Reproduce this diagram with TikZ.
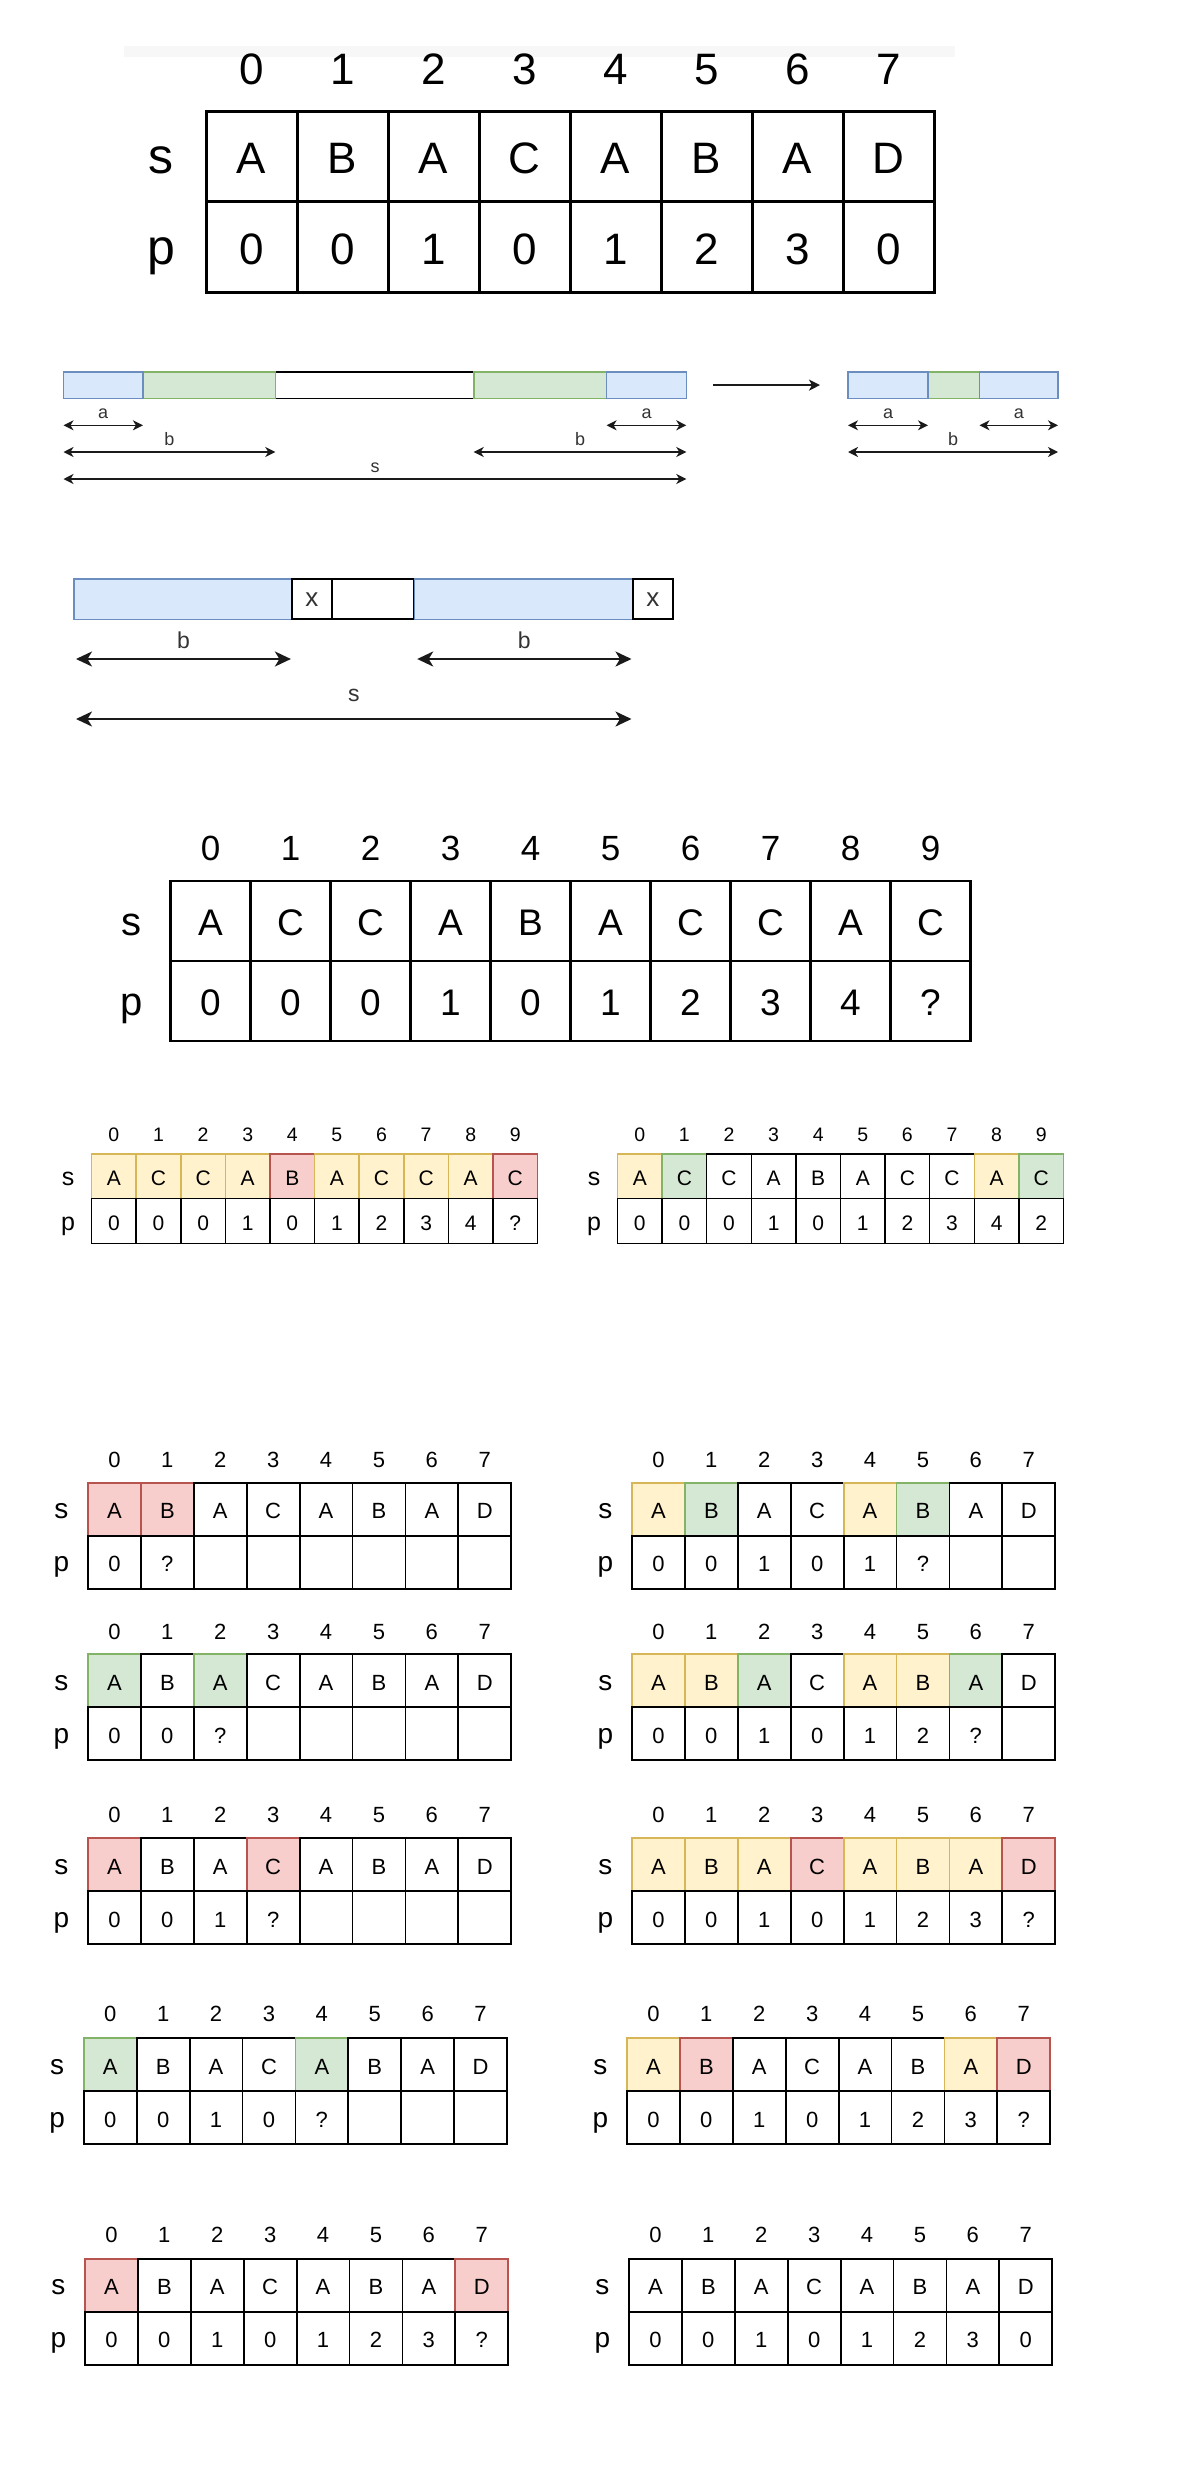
\documentclass[tikz,border=0pt]{standalone}
\usepackage{fontspec}
\setmainfont{Liberation Sans}
\usetikzlibrary{arrows.meta}
\definecolor{bluef}{HTML}{DAE8FC}\definecolor{blued}{HTML}{6C8EBF}
\definecolor{greenf}{HTML}{D5E8D4}\definecolor{greend}{HTML}{82B366}
\definecolor{yelf}{HTML}{FFF2CC}\definecolor{yeld}{HTML}{D6B656}
\definecolor{redf}{HTML}{F8CECC}\definecolor{redd}{HTML}{B85450}
\definecolor{ink}{HTML}{1A1A1A}
\definecolor{lbl}{HTML}{333333}
\definecolor{band}{HTML}{F7F7F7}

\tikzset{
  cellw/.style={draw=black, fill=white},
  celly/.style={draw=yeld, fill=yelf},
  cellg/.style={draw=greend, fill=greenf},
  cellr/.style={draw=redd, fill=redf},
  cellbox/.style={anchor=north west, inner sep=0pt, outer sep=0pt,
    minimum width=\CW pt, minimum height=\CH pt, line width=\LW pt,
    font=\fontsize{\FC}{\FC}\selectfont, text=black,
    text height=0.716*\FC pt+3pt, text depth=0pt},
  idxnum/.style={inner sep=0pt, font=\fontsize{\FI}{\FI}\selectfont, text=black,
    text height=0.716*\FI pt, text depth=0pt},
  rowlbl/.style={anchor=base, inner sep=0pt, font=\fontsize{\FL}{\FL}\selectfont, text=black},
  barbox/.style={anchor=north west, inner sep=0pt, outer sep=0pt},
  bluebar/.style={barbox, draw=blued, fill=bluef, line width=1.6pt},
  greenbar/.style={barbox, draw=greend, fill=greenf, line width=1.6pt},
  whitebar/.style={barbox, draw=black, fill=white, line width=1.8pt},
  dimsmall/.style={draw=ink, line width=1.6pt,
    arrows={Stealth[length=10pt,width=10pt,inset=3pt]-Stealth[length=10pt,width=10pt,inset=3pt]}},
  dimbig/.style={draw=ink, line width=2.2pt,
    arrows={Stealth[length=16pt,width=15pt,inset=4.5pt]-Stealth[length=16pt,width=15pt,inset=4.5pt]}},
  flowarrow/.style={draw=ink, line width=1.8pt,
    arrows={-Stealth[length=11pt,width=11pt,inset=3pt]}},
  dimlbl/.style={anchor=base, inner sep=0pt, text=lbl, font=\fontsize{18}{18}\selectfont},
  dimlblbig/.style={anchor=base, inner sep=0pt, text=lbl, font=\fontsize{23}{23}\selectfont},
}

% #1 name prefix, #2 list of letter/colour, #3 list of p values
\newcommand{\kmptab}[3]{%
  \foreach \L/\C [count=\i from 0] in {#2} {
    \node[cellbox, cell\C] (#1s\i) at ({\TX+\i*\CW},{\TY}) {\L};
    \node[idxnum] (#1i\i) at ({\TX+(\i+0.5)*\CW},{\IY}) {\i};
  }
  \foreach \P [count=\i from 0] in {#3} {
    \node[cellbox, cellw] (#1p\i) at ({\TX+\i*\CW},{\TY+\CH}) {\P};
  }
  \node[rowlbl] (#1ls) at ({\TX-\LX},{\TY+0.5*\CH+0.358*\FC+1.5}) {s};
  \node[rowlbl] (#1lp) at ({\TX-\LX},{\TY+1.5*\CH+0.358*\FC+1.5}) {p};
}

\begin{document}
\begin{tikzpicture}[x=1pt, y=-1pt]
\useasboundingbox (0,0) rectangle (1192,2476);
\fill[white] (0,0) rectangle (1192,2476);

% ---------- section 1 ----------
\fill[band] (124,46) rectangle (955,57);
\def\TX{206}\def\TY{111}\def\CW{91}\def\CH{90.5}\def\FC{44}\def\FL{50}\def\FI{44}\def\IY{69}\def\LX{45}\def\LW{3}
\kmptab{ta}{A/w,B/w,A/w,C/w,A/w,B/w,A/w,D/w}{0,0,1,0,1,2,3,0}

% ---------- section 2 ----------
\node[whitebar, minimum width=198.4pt, minimum height=26.8pt] (bw) at (275.3,371.7) {};
\node[greenbar, minimum width=132.4pt, minimum height=26.8pt] (bg1) at (142.9,371.7) {};
\node[greenbar, minimum width=132.9pt, minimum height=26.8pt] (bg2) at (473.7,371.7) {};
\node[bluebar, minimum width=79.6pt, minimum height=26.8pt] (bb1) at (63.3,371.7) {};
\node[bluebar, minimum width=79.7pt, minimum height=26.8pt] (bb2) at (606.6,371.7) {};
\node[greenbar, minimum width=51.5pt, minimum height=26.8pt] (mg) at (928,371.7) {};
\node[bluebar, minimum width=80pt, minimum height=26.8pt] (mb1) at (848,371.7) {};
\node[bluebar, minimum width=78.5pt, minimum height=26.8pt] (mb2) at (979.5,371.7) {};
\draw[flowarrow, shorten <=26.7pt, shorten >=28pt] (bb2.east) -- (mb1.west);

\coordinate (a1l) at (63.5,425.3);  \coordinate (a1r) at (142.9,425.3);
\coordinate (a2l) at (606.6,425.3); \coordinate (a2r) at (686.3,425.3);
\coordinate (b1l) at (63.5,452);    \coordinate (b1r) at (275.3,452);
\coordinate (b2l) at (473.7,452);   \coordinate (b2r) at (686.3,452);
\coordinate (s1l) at (63.5,479);    \coordinate (s1r) at (686.3,479);
\coordinate (a3l) at (848,425.3);   \coordinate (a3r) at (928,425.3);
\coordinate (a4l) at (979.5,425.3); \coordinate (a4r) at (1058,425.3);
\coordinate (b3l) at (848,452);     \coordinate (b3r) at (1058,452);
\draw[dimsmall] (a1l) -- (a1r);
\draw[dimsmall] (a2l) -- (a2r);
\draw[dimsmall] (b1l) -- (b1r);
\draw[dimsmall] (b2l) -- (b2r);
\draw[dimsmall] (s1l) -- (s1r);
\draw[dimsmall] (a3l) -- (a3r);
\draw[dimsmall] (a4l) -- (a4r);
\draw[dimsmall] (b3l) -- (b3r);
\node[dimlbl] (la1) at (103.1,418.3) {a};
\node[dimlbl] (la2) at (646.5,418.3) {a};
\node[dimlbl] (lb1) at (169.4,445) {b};
\node[dimlbl] (lb2) at (580,445) {b};
\node[dimlbl] (ls1) at (375,472) {s};
\node[dimlbl] (la3) at (888,418.3) {a};
\node[dimlbl] (la4) at (1018.8,418.3) {a};
\node[dimlbl] (lb3) at (953,445) {b};

% ---------- section 3 ----------
\node[whitebar, line width=2pt, minimum width=82.4pt, minimum height=40.3pt] (cw) at (331.9,579) {};
\node[bluebar, minimum width=217.9pt, minimum height=40.3pt] (cb1) at (74,579) {};
\node[bluebar, minimum width=218.2pt, minimum height=40.3pt] (cb2) at (414.3,579) {};
\node[whitebar, line width=2pt, minimum width=40pt, minimum height=40.3pt,
      font=\fontsize{26}{26}\selectfont, text=lbl] (cx1) at (291.9,579) {x};
\node[whitebar, line width=2pt, minimum width=40.7pt, minimum height=40.3pt,
      font=\fontsize{26}{26}\selectfont, text=lbl] (cx2) at (632.5,579) {x};
\coordinate (cb1l) at (76,659);    \coordinate (cb1r) at (290.9,659);
\coordinate (cb2l) at (417.2,659); \coordinate (cb2r) at (631.5,659);
\coordinate (cs1l) at (76,719);    \coordinate (cs1r) at (631.5,719);
\draw[dimbig] (cb1l) -- (cb1r);
\draw[dimbig] (cb2l) -- (cb2r);
\draw[dimbig] (cs1l) -- (cs1r);
\node[dimlblbig] (clb1) at (183.5,648.3) {b};
\node[dimlblbig] (clb2) at (524.3,648.3) {b};
\node[dimlblbig] (cls1) at (353.8,701.7) {s};

% ---------- section 4 ----------
\def\TX{170.5}\def\TY{881}\def\CW{80}\def\CH{80}\def\FC{37}\def\FL{40}\def\FI{35}\def\IY{847.5}\def\LX{39}\def\LW{2.3}
\kmptab{tb}{A/w,C/w,C/w,A/w,B/w,A/w,C/w,C/w,A/w,C/w}{0,0,0,1,0,1,2,3,4,?}

% ---------- section 5 ----------
\def\TY{1154}\def\CW{44.6}\def\CH{44.7}\def\FC{21}\def\FL{25}\def\FI{19.5}\def\IY{1135}\def\LX{23.4}\def\LW{1.5}
\def\TX{91.6}
\kmptab{tc}{A/y,C/y,C/y,A/y,B/r,A/y,C/y,C/y,A/y,C/r}{0,0,0,1,0,1,2,3,4,?}
\def\TX{617.5}
\kmptab{td}{A/y,C/g,C/w,A/w,B/w,A/w,C/w,C/w,A/y,C/g}{0,0,0,1,0,1,2,3,4,2}

% ---------- section 6 ----------
\def\CW{52.9}\def\CH{53}\def\FC{22}\def\FL{28}\def\FI{22}\def\LX{26.6}\def\LW{1.8}
% row 1
\def\TY{1482.7}\def\IY{1459.3}
\def\TX{88}
\kmptab{te}{A/r,B/r,A/w,C/w,A/w,B/w,A/w,D/w}{0,?,{},{},{},{},{},{}}
\def\TX{632}
\kmptab{tf}{A/y,B/g,A/w,C/w,A/y,B/g,A/w,D/w}{0,0,1,0,1,?,{},{}}
% row 2
\def\TY{1654.3}\def\IY{1631.7}
\def\TX{88}
\kmptab{tg}{A/g,B/w,A/g,C/w,A/w,B/w,A/w,D/w}{0,0,?,{},{},{},{},{}}
\def\TX{632}
\kmptab{th}{A/y,B/y,A/g,C/w,A/y,B/y,A/g,D/w}{0,0,1,0,1,2,?,{}}
% row 3
\def\TY{1838.3}\def\IY{1815}
\def\TX{88}
\kmptab{ti}{A/r,B/w,A/w,C/r,A/w,B/w,A/w,D/w}{0,0,1,?,{},{},{},{}}
\def\TX{632}
\kmptab{tj}{A/y,B/y,A/y,C/r,A/y,B/y,A/y,D/r}{0,0,1,0,1,2,3,?}
% row 4
\def\TY{2038.3}\def\IY{2014}
\def\TX{83.8}
\kmptab{tk}{A/g,B/w,A/w,C/w,A/g,B/w,A/w,D/w}{0,0,1,0,?,{},{},{}}
\def\TX{627}
\kmptab{tl}{A/y,B/r,A/w,C/w,A/w,B/w,A/y,D/r}{0,0,1,0,1,2,3,?}
% row 5
\def\TY{2259}\def\IY{2235}
\def\TX{85}
\kmptab{tm}{A/r,B/w,A/w,C/w,A/w,B/w,A/w,D/r}{0,0,1,0,1,2,3,?}
\def\TX{629}
\kmptab{tn}{A/w,B/w,A/w,C/w,A/w,B/w,A/w,D/w}{0,0,1,0,1,2,3,0}
\end{tikzpicture}
\end{document}
